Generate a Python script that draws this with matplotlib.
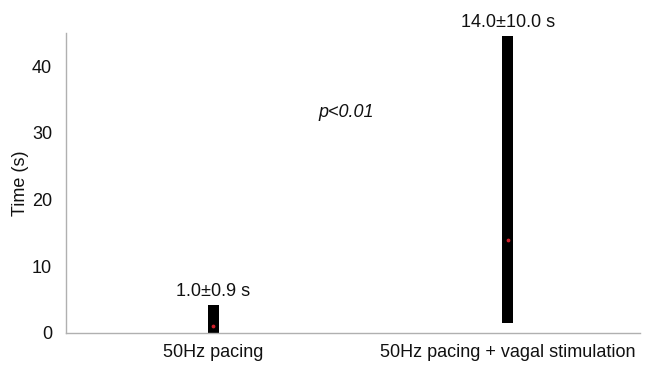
import matplotlib
matplotlib.use("Agg")
import matplotlib.pyplot as plt

# data
groups = ["50Hz pacing", "50Hz pacing + vagal stimulation"]
range_low = [0.0, 1.5]
range_high = [4.2, 44.5]
means = [1.0, 14.0]
sds = [0.9, 10.0]
y_ticks = [0, 10, 20, 30, 40]

plt.rcParams["font.family"] = ["Liberation Sans", "DejaVu Sans"]

fig = plt.figure(figsize=(6.54, 3.65), dpi=100)
ax = fig.add_axes([0.101, 0.088, 0.878, 0.822])

x = list(range(len(groups)))
heights = [h - l for h, l in zip(range_high, range_low)]
ax.bar(x, heights, bottom=range_low, width=0.036, color="black", zorder=2)
ax.scatter(x, means, s=3, color="#d0202a", zorder=3)

# labels mean±sd above each bar
for xi, hi, m, s in zip(x, range_high, means, sds):
    ax.text(xi, hi + 0.8, f"{m:.1f}±{s:.1f} s", ha="center", va="bottom",
            fontsize=13, color="#111111", clip_on=False)

ax.text(0.45, 33, "p<0.01", ha="center", va="center", fontsize=13,
        style="italic", color="#111111")

ax.set_xlim(-0.5, 1.45)
ax.set_ylim(0, 45)
ax.set_xticks(x)
ax.set_xticklabels(groups, fontsize=13, color="#111111")
ax.set_yticks(y_ticks)
ax.tick_params(axis="both", length=0, labelsize=13, labelcolor="#111111")
ax.tick_params(axis="y", pad=10)
ax.tick_params(axis="x", pad=8)
ax.set_ylabel("Time (s)", fontsize=13, color="#111111", labelpad=2)

for side in ["top", "right"]:
    ax.spines[side].set_visible(False)
for side in ["left", "bottom"]:
    ax.spines[side].set_color("#b0b0b0")
    ax.spines[side].set_linewidth(1.0)

fig.savefig("out.png", dpi=100)
plt.close(fig)
